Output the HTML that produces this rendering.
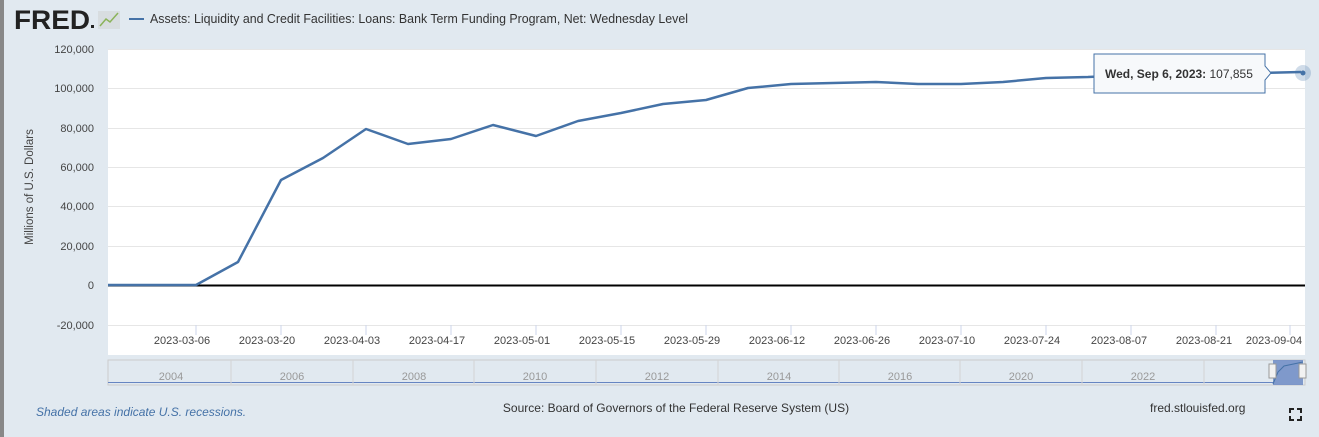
<!DOCTYPE html>
<html><head><meta charset="utf-8"><style>
body{margin:0;width:1319px;height:437px;background:#e1e9f0;font-family:"Liberation Sans",sans-serif;overflow:hidden;position:relative}
</style></head><body>
<div style="position:absolute;left:0;top:0;width:4px;height:437px;background:#888"></div>
<svg width="1319" height="437" style="position:absolute;left:0;top:0" font-family="Liberation Sans, sans-serif">
<text x="14" y="29" font-size="27" font-weight="bold" fill="#222" textLength="76" lengthAdjust="spacingAndGlyphs">FRED</text>
<rect x="91" y="25" width="3" height="3" fill="#222"/>
<rect x="98" y="11" width="22" height="18" fill="#d8dde0"/>
<polyline points="100,26 106,19 110,22 118,13" fill="none" stroke="#8bb35a" stroke-width="1.5"/>
<line x1="129" y1="19" x2="144" y2="19" stroke="#4572a7" stroke-width="2"/>
<text x="150" y="23" font-size="12.5" fill="#333" textLength="538" lengthAdjust="spacingAndGlyphs">Assets: Liquidity and Credit Facilities: Loans: Bank Term Funding Program, Net: Wednesday Level</text>
<rect x="108" y="49" width="1197" height="306" fill="#fff"/>
<g stroke="#e6e6e6" stroke-width="1">
<line x1="108" y1="49.5" x2="1305" y2="49.5"/><line x1="108" y1="88.5" x2="1305" y2="88.5"/><line x1="108" y1="128.5" x2="1305" y2="128.5"/><line x1="108" y1="167.5" x2="1305" y2="167.5"/><line x1="108" y1="206.5" x2="1305" y2="206.5"/><line x1="108" y1="246.5" x2="1305" y2="246.5"/><line x1="108" y1="325.5" x2="1305" y2="325.5"/>
</g>
<line x1="108" y1="285.5" x2="1305" y2="285.5" stroke="#000" stroke-width="2"/>
<g font-size="11" fill="#444" text-anchor="end">
<text x="94" y="53">120,000</text><text x="94" y="92">100,000</text><text x="94" y="132">80,000</text><text x="94" y="171">60,000</text><text x="94" y="210">40,000</text><text x="94" y="250">20,000</text><text x="94" y="289">0</text><text x="94" y="329">-20,000</text>
</g>
<text transform="translate(33,187) rotate(-90)" font-size="11.5" fill="#444" text-anchor="middle">Millions of U.S. Dollars</text>
<g stroke="#ccd6eb"><line x1="196" y1="325" x2="196" y2="335"/><line x1="281" y1="325" x2="281" y2="335"/><line x1="366" y1="325" x2="366" y2="335"/><line x1="451" y1="325" x2="451" y2="335"/><line x1="536" y1="325" x2="536" y2="335"/><line x1="621" y1="325" x2="621" y2="335"/><line x1="706" y1="325" x2="706" y2="335"/><line x1="791" y1="325" x2="791" y2="335"/><line x1="876" y1="325" x2="876" y2="335"/><line x1="961" y1="325" x2="961" y2="335"/><line x1="1046" y1="325" x2="1046" y2="335"/><line x1="1131" y1="325" x2="1131" y2="335"/><line x1="1216" y1="325" x2="1216" y2="335"/><line x1="1290" y1="325" x2="1290" y2="335"/></g>
<g font-size="11" fill="#444" text-anchor="middle">
<text x="182" y="344">2023-03-06</text><text x="267" y="344">2023-03-20</text><text x="352" y="344">2023-04-03</text><text x="437" y="344">2023-04-17</text><text x="522" y="344">2023-05-01</text><text x="607" y="344">2023-05-15</text><text x="692" y="344">2023-05-29</text><text x="777" y="344">2023-06-12</text><text x="862" y="344">2023-06-26</text><text x="947" y="344">2023-07-10</text><text x="1032" y="344">2023-07-24</text><text x="1119" y="344">2023-08-07</text><text x="1204" y="344">2023-08-21</text><text x="1274" y="344">2023-09-04</text>
</g>
<polyline fill="none" stroke="#4572a7" stroke-width="2.5" stroke-linejoin="round" points="108,285 196,285 238,262 281,180 323,158 366,129 408,144 451,139 493,125 536,136 578,121 621,113 663,104 706,100 748,88 791,84 833,83 876,82 918,84 961,84 1003,82 1046,78 1088,77 1131,75 1173,74 1216,74 1258,73 1301,72"/>
<circle cx="1303" cy="73" r="8" fill="#4572a7" opacity="0.25"/><circle cx="1303" cy="73" r="2.5" fill="#4572a7"/>
<path d="M1094,54 H1265 V66 L1271,73 L1265,80 V93 H1094 Z" fill="#f7f9fb" stroke="#4572a7" stroke-width="1"/>
<text x="1105" y="78" font-size="12" fill="#333"><tspan font-weight="bold">Wed, Sep 6, 2023:</tspan> 107,855</text>
<rect x="108" y="360" width="1197" height="25" fill="#e1e9f0" stroke="#ccc" stroke-width="1"/>
<line x1="108" y1="382.5" x2="1273" y2="382.5" stroke="#6685c2" stroke-width="1"/>
<g stroke="#d4d4d4"><line x1="231" y1="360" x2="231" y2="385"/><line x1="353" y1="360" x2="353" y2="385"/><line x1="474" y1="360" x2="474" y2="385"/><line x1="596" y1="360" x2="596" y2="385"/><line x1="718" y1="360" x2="718" y2="385"/><line x1="839" y1="360" x2="839" y2="385"/><line x1="960" y1="360" x2="960" y2="385"/><line x1="1082" y1="360" x2="1082" y2="385"/><line x1="1204" y1="360" x2="1204" y2="385"/></g>
<g font-size="11" fill="#999" text-anchor="middle"><text x="171" y="380">2004</text><text x="292" y="380">2006</text><text x="414" y="380">2008</text><text x="535" y="380">2010</text><text x="657" y="380">2012</text><text x="779" y="380">2014</text><text x="900" y="380">2016</text><text x="1021" y="380">2020</text><text x="1143" y="380">2022</text></g>
<rect x="1273" y="360" width="30" height="25" fill="#6685c2" opacity="0.8"/>
<polyline points="1273,384 1278,372 1284,366 1303,362" fill="none" stroke="#4572a7" stroke-width="1"/>
<rect x="1269" y="364" width="7" height="14" fill="#f2f2f2" stroke="#999"/>
<rect x="1299" y="364" width="7" height="14" fill="#f2f2f2" stroke="#999"/>
<text x="36" y="416" font-size="12" font-style="italic" fill="#4572a7">Shaded areas indicate U.S. recessions.</text>
<text x="676" y="412" font-size="12" fill="#333" text-anchor="middle">Source: Board of Governors of the Federal Reserve System (US)</text>
<text x="1150" y="412" font-size="12" fill="#333">fred.stlouisfed.org</text>
<g stroke="#222" stroke-width="2" fill="none"><path d="M1290,413 v-4 h4"/><path d="M1297,409 h4 v4"/><path d="M1290,416 v4 h4"/><path d="M1301,416 v4 h-4"/></g>
</svg>
</body></html>
